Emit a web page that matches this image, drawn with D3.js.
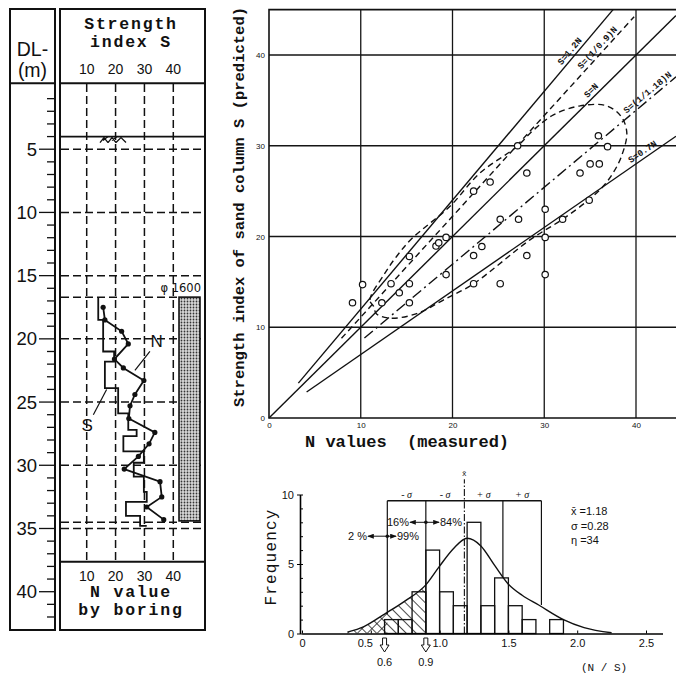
<!DOCTYPE html>
<html>
<head>
<meta charset="utf-8">
<script src="https://cdn.jsdelivr.net/npm/d3@7"></script>
<style>
  body { margin: 0; background: #fff; }
  svg { display: block; }
  text { fill: #111; }
</style>
</head>
<body>
<div class="chart"></div>
<script>
const WIDTH = 676
const HEIGHT = 675

// ---------- data: boring log ----------
const depthLabels = [5, 10, 15, 20, 25, 30, 35, 40]
const logTicks = [10, 20, 30, 40]
const gridDepths = [5, 10, 15, 20, 25, 30, 34.5, 35]
const groundDepth = 4.0
const pileTop = 16.7
const pileBottom = 34.4
const nDepth = [17.5, 18.5, 19.4, 20.4, 21.6, 22.3, 23.3, 24.4, 25.3, 26.3, 27.4, 28.3, 29.3, 30.3, 31.3, 32.5, 33.3, 34.3]
const nValue = [15.7, 16.3, 22.1, 24.4, 19.6, 22.7, 29.8, 26.7, 25.0, 24.6, 33.6, 31.6, 27.9, 23.0, 35.4, 36.0, 30.8, 36.7]
const sTop    = [16.7, 18.5, 21.0, 21.8, 23.9, 25.9, 27.2, 27.7, 28.9, 29.8, 30.9, 32.1, 32.9, 34.0, 34.8]
const sBottom = [18.5, 21.0, 21.8, 23.9, 25.9, 27.2, 27.7, 28.9, 29.8, 30.9, 32.1, 32.9, 34.0, 34.8, 34.8]
const sValue  = [14.0, 15.7, 19.5, 16.3, 20.9, 24.4, 27.3, 22.7, 29.8, 26.3, 29.8, 30.8, 23.6, 28.5, 30.8]

// ---------- data: scatter N vs S ----------
const axisTicks = [0, 10, 20, 30, 40]
const measuredN = [9.1, 10.2, 12.3, 13.3, 14.2, 15.3, 15.3, 15.3, 18.2, 18.5, 19.3, 19.3, 22.3, 23.2, 22.3, 25.2, 25.2,
                   27.2, 28.1, 30.1, 30.1, 30.1, 32.0, 34.9, 27.1, 28.1, 22.3, 24.1, 35.9, 36.9, 33.9, 35.0, 36.0]
const predictedS = [12.7, 14.7, 12.7, 14.8, 13.8, 14.8, 17.8, 12.7, 18.95, 19.3, 19.9, 15.8, 17.9, 18.9, 14.8, 21.9, 14.8,
                    21.9, 17.9, 23.0, 19.9, 15.8, 21.9, 24.0, 30.0, 27.0, 25.0, 26.0, 31.1, 29.9, 27.0, 28.0, 28.0]
const lineNames  = ["S=1.2N", "S=(1/0.9)N", "S=N", "S=(1/1.18)N", "S=0.7N"]
const lineSlopes = [1.2, 1 / 0.9, 1, 1 / 1.18, 0.7]
const lineFromN  = [3.2, 7.9, 0, 10.4, 4.1]
const lineToN    = [37.5, 39.8, 45, 45, 45]
const labelAtN   = [33.3, 36.3, 35.6, 41.7, 41.1]
const envelopeN = [11.4, 11.0, 12.6, 13.9, 15.6, 19.7, 23.0, 27.0, 28.8, 31.0, 33.9, 36.8, 38.4, 39.0, 38.4, 37.5,
                   36.4, 34.8, 32.0, 28.4, 22.3, 19.0, 16.1, 13.2, 11.7]
const envelopeS = [12.3, 13.0, 15.9, 17.8, 19.8, 23.3, 27.0, 29.9, 31.7, 33.4, 34.4, 34.4, 33.2, 31.4, 28.8, 27.0,
                   25.5, 24.0, 21.9, 19.6, 14.8, 13.0, 11.5, 11.0, 11.5]

// ---------- data: histogram of N/S ----------
const binStart = [0.6, 0.7, 0.8, 0.9, 1.0, 1.1, 1.2, 1.3, 1.4, 1.5, 1.6, 1.7, 1.8]
const binCount = [1, 1, 3, 6, 3, 2, 8, 2, 4, 2, 1, 0, 1]
const curveX = [0.33, 0.45, 0.6, 0.75, 0.9, 1.0, 1.1, 1.2, 1.3, 1.4, 1.5, 1.6, 1.72, 1.9, 2.05, 2.25]
const curveY = [0.1, 0.5, 1.4, 2.35, 3.5, 4.85, 6.1, 6.85, 6.3, 4.9, 3.55, 2.75, 2.05, 1.0, 0.42, 0.05]
const ratioTicks = [0, 0.5, 1.0, 1.5, 2.0, 2.5]
const sigmaX = [0.62, 0.90, 1.46, 1.74]
const sigmaFoot = [1.4, 0, 4.0, 2.05]
const sigmaLabels = ["- σ", "- σ", "+ σ", "+ σ"]
const meanRatio = 1.18
const sdRatio = 0.28
const sampleCount = 34
const markedRatios = [0.6, 0.9]

const svg = d3.select("div.chart")
            .append("svg")
            .attr("width", WIDTH)
            .attr("height", HEIGHT)

const defs = svg.append("defs")

// stipple for the pile column
const stip = defs.append("pattern").attr("id", "stipple")
            .attr("patternUnits", "userSpaceOnUse").attr("width", 3).attr("height", 3)
stip.append("rect").attr("width", 3).attr("height", 3).attr("fill", "#d8d8d8")
stip.append("circle").attr("cx", 1.5).attr("cy", 1.5).attr("r", 0.9).attr("fill", "#333")

// hatches for the histogram tail
function hatch(id, angle) {
  const p = defs.append("pattern").attr("id", id)
            .attr("patternUnits", "userSpaceOnUse").attr("width", 7).attr("height", 7)
            .attr("patternTransform", `rotate(${angle})`)
  p.append("line").attr("x1", 0).attr("y1", 0).attr("x2", 0).attr("y2", 7)
            .attr("stroke", "#111").attr("stroke-width", 1.5)
}
hatch("hatchBack", -45)
hatch("hatchFwd", 45)

const monoHead = "bold 16.5px 'Liberation Mono'"

// =============== 1. boring log ===============
const xLog = d3.scaleLinear().domain([10, 40]).range([86.7, 173.3])
const yDep = d3.scaleLinear().domain([0, 40]).range([86, 591.7])
const log = svg.append("g")

// frames
log.append("rect").attr("x", 10).attr("y", 9).attr("width", 45).attr("height", 621)
            .attr("fill", "none").attr("stroke", "#111").attr("stroke-width", 2)
log.append("rect").attr("x", 60).attr("y", 9).attr("width", 145).attr("height", 621)
            .attr("fill", "none").attr("stroke", "#111").attr("stroke-width", 2)
log.append("line").attr("x1", 10).attr("x2", 55).attr("y1", 83.3).attr("y2", 83.3)
            .attr("stroke", "#111").attr("stroke-width", 2)
log.append("line").attr("x1", 60).attr("x2", 205).attr("y1", 83.3).attr("y2", 83.3)
            .attr("stroke", "#111").attr("stroke-width", 2)
log.append("line").attr("x1", 60).attr("x2", 205).attr("y1", 561.7).attr("y2", 561.7)
            .attr("stroke", "#111").attr("stroke-width", 2)

log.append("text").attr("x", 32.5).attr("y", 56).attr("text-anchor", "middle")
            .style("font", "19.5px 'Liberation Sans'").text("DL-")
log.append("text").attr("x", 32.5).attr("y", 77).attr("text-anchor", "middle")
            .style("font", "19.5px 'Liberation Sans'").text("(m)")

const headRows = [["Strength", 29], ["index S", 46.5], ["N value", 597], ["by boring", 614.5]]
log.selectAll(".head").data(headRows).enter().append("text")
            .attr("x", 131).attr("y", d => d[1]).attr("text-anchor", "middle")
            .style("font", monoHead).style("letter-spacing", "1.8px")
            .text(d => d[0])

// top and bottom scale numbers
log.selectAll(".topnum").data(logTicks).enter().append("text")
            .attr("x", d => xLog(d)).attr("y", 74).attr("text-anchor", "middle")
            .style("font", "14px 'Liberation Sans'").text(d => d)
log.selectAll(".botnum").data(logTicks).enter().append("text")
            .attr("x", d => xLog(d)).attr("y", 581).attr("text-anchor", "middle")
            .style("font", "14px 'Liberation Sans'").text(d => d)

// depth ticks
log.selectAll(".dtick").data(d3.range(1, 43)).enter().append("line")
            .attr("x1", d => d % 5 === 0 ? 39 : 47).attr("x2", 55)
            .attr("y1", d => yDep(d)).attr("y2", d => yDep(d))
            .attr("stroke", "#111").attr("stroke-width", 1.3)
log.selectAll(".dlab").data(depthLabels).enter().append("text")
            .attr("x", 37).attr("y", d => yDep(d) + 6.5).attr("text-anchor", "end")
            .style("font", "18.5px 'Liberation Sans'").text(d => d)

// dashed grid inside the log
log.selectAll(".vdash").data(logTicks).enter().append("line")
            .attr("x1", d => xLog(d)).attr("x2", d => xLog(d)).attr("y1", 84).attr("y2", 561)
            .attr("stroke", "#111").attr("stroke-width", 1.5).attr("stroke-dasharray", "8,4")
log.selectAll(".hdash").data(gridDepths).enter().append("line")
            .attr("x1", 61).attr("x2", 204).attr("y1", d => yDep(d)).attr("y2", d => yDep(d))
            .attr("stroke", "#111").attr("stroke-width", 1.5).attr("stroke-dasharray", "8,4")
log.append("line").attr("x1", 61).attr("x2", 178).attr("y1", yDep(pileTop)).attr("y2", yDep(pileTop))
            .attr("stroke", "#111").attr("stroke-width", 1.5).attr("stroke-dasharray", "8,4")

// ground line and symbol
log.append("line").attr("x1", 60).attr("x2", 205).attr("y1", yDep(groundDepth)).attr("y2", yDep(groundDepth))
            .attr("stroke", "#111").attr("stroke-width", 1.8)
const gy = yDep(groundDepth)
log.append("path")
            .attr("d", `M100,${gy + 6} l4,-5 l4,5 m0,0 l4,-5 l4,5 M103,${gy + 4} l5,-4 m4,4 l5,-4 M116,${gy + 6} l5,-5 l5,5`)
            .attr("fill", "none").attr("stroke", "#111").attr("stroke-width", 1.3)

// pile column
log.append("rect").attr("x", 179).attr("width", 21)
            .attr("y", yDep(pileTop)).attr("height", yDep(pileBottom) - yDep(pileTop))
            .attr("fill", "url(#stipple)").attr("stroke", "#111").attr("stroke-width", 1.6)
log.append("text").attr("x", 201).attr("y", 292).attr("text-anchor", "end")
            .style("font", "11.5px 'DejaVu Sans'").style("fill", "#111").text("φ 1600")

// S step profile
const sPts = sValue.flatMap((v, i) => [[v, sTop[i]], [v, sBottom[i]]])
log.append("path").datum(sPts)
            .attr("d", d3.line().x(d => xLog(d[0])).y(d => yDep(d[1])))
            .attr("fill", "none").attr("stroke", "#111").attr("stroke-width", 1.8)

// N profile
const nPts = nValue.map((v, i) => [v, nDepth[i]])
log.append("path").datum(nPts)
            .attr("d", d3.line().x(d => xLog(d[0])).y(d => yDep(d[1])))
            .attr("fill", "none").attr("stroke", "#111").attr("stroke-width", 1.8)
log.selectAll(".ndot").data(nPts).enter().append("circle")
            .attr("cx", d => xLog(d[0])).attr("cy", d => yDep(d[1])).attr("r", 2.6).attr("fill", "#111")

// N and S labels
log.append("line").attr("x1", xLog(31.9)).attr("y1", yDep(21.0)).attr("x2", xLog(26.7)).attr("y2", yDep(22.5))
            .attr("stroke", "#111").attr("stroke-width", 1.2)
log.append("text").attr("x", xLog(34.2)).attr("y", yDep(20.2) + 6).attr("text-anchor", "middle")
            .style("font", "17px 'Liberation Sans'").text("N")
log.append("line").attr("x1", xLog(12.3)).attr("y1", yDep(26.0)).attr("x2", xLog(16.9)).attr("y2", yDep(24.0))
            .attr("stroke", "#111").attr("stroke-width", 1.2)
log.append("text").attr("x", xLog(10.2)).attr("y", yDep(26.8) + 6).attr("text-anchor", "middle")
            .style("font", "17px 'Liberation Sans'").text("S")

// =============== 2. scatter N vs S ===============
const xS = d3.scaleLinear().domain([0, 40]).range([269, 636])
const yS = d3.scaleLinear().domain([0, 40]).range([418, 55])
const topS = 45
const rightN = xS.invert(WIDTH)
const sc = svg.append("g")

sc.selectAll(".gv").data(axisTicks.slice(1)).enter().append("line")
            .attr("x1", d => xS(d)).attr("x2", d => xS(d)).attr("y1", yS(topS)).attr("y2", yS(0))
            .attr("stroke", "#151515").attr("stroke-width", 1.3)
sc.selectAll(".gh").data(axisTicks.slice(1)).enter().append("line")
            .attr("x1", xS(0)).attr("x2", WIDTH).attr("y1", d => yS(d)).attr("y2", d => yS(d))
            .attr("stroke", "#151515").attr("stroke-width", 1.3)
sc.append("path")
            .attr("d", `M${WIDTH},${yS(topS)}H${xS(0)}V${yS(0)}H${WIDTH}`)
            .attr("fill", "none").attr("stroke", "#111").attr("stroke-width", 1.6)

sc.append("g").attr("transform", `translate(${xS(0)},0)`)
            .call(d3.axisLeft(yS).tickValues(axisTicks).tickSize(0).tickPadding(4))
            .call(g => g.select(".domain").remove())
            .call(g => g.selectAll("text").style("font", "8px 'Liberation Sans'"))
sc.append("g").attr("transform", `translate(0,${yS(0)})`)
            .call(d3.axisBottom(xS).tickValues(axisTicks).tickSize(0).tickPadding(4))
            .call(g => g.select(".domain").remove())
            .call(g => g.selectAll("text").style("font", "8px 'Liberation Sans'"))

sc.append("text").attr("transform", `translate(244,207) rotate(-90)`).attr("text-anchor", "middle")
            .style("font", "bold 15.5px 'Liberation Mono'")
            .text("Strength index of sand column S (predicted)")
sc.append("text").attr("x", 305).attr("y", 447)
            .style("font", "bold 17px 'Liberation Mono'").style("white-space", "pre")
            .text("N values  (measured)")

// reference lines S = k N
const dashFor = { "S=(1/0.9)N": "6,4", "S=(1/1.18)N": "11,4,2,4" }
const refLines = lineNames.map((name, i) => ({
  name, k: lineSlopes[i], n0: lineFromN[i],
  n1: Math.min(lineToN[i], rightN, topS / lineSlopes[i]), at: labelAtN[i]
}))
sc.selectAll(".ref").data(refLines).enter().append("line")
            .attr("x1", d => xS(d.n0)).attr("y1", d => yS(d.k * d.n0))
            .attr("x2", d => xS(d.n1)).attr("y2", d => yS(d.k * d.n1))
            .attr("stroke", "#111").attr("stroke-width", 1.4)
            .attr("stroke-dasharray", d => dashFor[d.name] || null)
sc.selectAll(".reflab").data(refLines).enter().append("text")
            .attr("transform", d => {
              const ang = Math.atan2(yS(d.k * 10) - yS(0), xS(10) - xS(0)) * 180 / Math.PI
              return `translate(${xS(d.at)},${yS(d.k * d.at)}) rotate(${ang})`
            })
            .attr("dy", -3.5).attr("text-anchor", "middle")
            .style("font", "bold 9px 'Liberation Mono'")
            .text(d => d.name)

// dashed envelope
const envPts = envelopeN.map((n, i) => [n, envelopeS[i]])
sc.append("path").datum(envPts)
            .attr("d", d3.line().x(d => xS(d[0])).y(d => yS(d[1])).curve(d3.curveCatmullRomClosed))
            .attr("fill", "none").attr("stroke", "#111").attr("stroke-width", 1.4).attr("stroke-dasharray", "6,4")

// data points
sc.selectAll(".pt").data(measuredN.map((n, i) => [n, predictedS[i]])).enter().append("circle")
            .attr("cx", d => xS(d[0])).attr("cy", d => yS(d[1])).attr("r", 3.2)
            .attr("fill", "#fff").attr("stroke", "#111").attr("stroke-width", 1.2)

// =============== 3. histogram of N/S ===============
const xH = d3.scaleLinear().domain([0, 2.5]).range([302, 646])
const yH = d3.scaleLinear().domain([0, 10]).range([633.5, 494.5])
const hi = svg.append("g")
const curvePts = curveX.map((x, i) => [x, curveY[i]])

defs.append("clipPath").attr("id", "clipTail").append("rect")
            .attr("x", xH(0.3)).attr("y", yH(10)).attr("width", xH(0.9) - xH(0.3)).attr("height", yH(0) - yH(10))
defs.append("clipPath").attr("id", "clipFar").append("rect")
            .attr("x", xH(0.3)).attr("y", yH(10)).attr("width", xH(0.62) - xH(0.3)).attr("height", yH(0) - yH(10))

const under = d3.area().x(d => xH(d[0])).y0(yH(0)).y1(d => yH(d[1])).curve(d3.curveMonotoneX)
hi.append("path").datum(curvePts).attr("d", under).attr("fill", "url(#hatchBack)").attr("clip-path", "url(#clipTail)")
hi.append("path").datum(curvePts).attr("d", under).attr("fill", "url(#hatchFwd)").attr("clip-path", "url(#clipFar)")

// bars
hi.selectAll(".bar").data(binStart.map((b, i) => [b, binCount[i]]).filter(d => d[1] > 0)).enter().append("rect")
            .attr("x", d => xH(d[0])).attr("width", d => xH(d[0] + 0.1) - xH(d[0]))
            .attr("y", d => yH(d[1])).attr("height", d => yH(0) - yH(d[1]))
            .attr("fill", "none").attr("stroke", "#111").attr("stroke-width", 1.3)

// fitted curve
hi.append("path").datum(curvePts)
            .attr("d", d3.line().x(d => xH(d[0])).y(d => yH(d[1])).curve(d3.curveMonotoneX))
            .attr("fill", "none").attr("stroke", "#111").attr("stroke-width", 1.4)

// sigma box
const sigTop = 9.55
hi.append("line").attr("x1", xH(sigmaX[0])).attr("x2", xH(sigmaX[3])).attr("y1", yH(sigTop)).attr("y2", yH(sigTop))
            .attr("stroke", "#111").attr("stroke-width", 1.3)
hi.selectAll(".sig").data(sigmaX).enter().append("line")
            .attr("x1", d => xH(d)).attr("x2", d => xH(d))
            .attr("y1", yH(sigTop)).attr("y2", (d, i) => yH(sigmaFoot[i]))
            .attr("stroke", "#111").attr("stroke-width", 1.2)
const sigMid = [(sigmaX[0] + sigmaX[1]) / 2, (sigmaX[1] + meanRatio) / 2, (meanRatio + sigmaX[2]) / 2, (sigmaX[2] + sigmaX[3]) / 2]
hi.selectAll(".siglab").data(sigMid).enter().append("text")
            .attr("x", d => xH(d)).attr("y", yH(sigTop) - 3).attr("text-anchor", "middle")
            .style("font", "italic 10px 'Liberation Serif'").text((d, i) => sigmaLabels[i])

// mean line
hi.append("line").attr("x1", xH(meanRatio)).attr("x2", xH(meanRatio)).attr("y1", yH(0)).attr("y2", yH(11.1))
            .attr("stroke", "#111").attr("stroke-width", 1.1).attr("stroke-dasharray", "7,2,1.5,2")
hi.append("text").attr("x", xH(meanRatio)).attr("y", yH(11.35)).attr("text-anchor", "middle")
            .style("font", "8px 'Liberation Sans'").text("x̄")

// percent arrows
const arrowHead = defs.append("marker").attr("id", "ah").attr("viewBox", "0 0 8 6")
            .attr("refX", 7).attr("refY", 3).attr("markerWidth", 7).attr("markerHeight", 5).attr("orient", "auto")
arrowHead.append("path").attr("d", "M0,0L8,3L0,6Z").attr("fill", "#111")
function pctRow(at, level, leftText, rightText, leftEnd, rightEnd) {
  const y = yH(level), cx = xH(at)
  hi.append("line").attr("x1", cx).attr("x2", leftEnd).attr("y1", y).attr("y2", y)
            .attr("stroke", "#111").attr("stroke-width", 1).attr("marker-end", "url(#ah)")
  hi.append("line").attr("x1", cx).attr("x2", rightEnd).attr("y1", y).attr("y2", y)
            .attr("stroke", "#111").attr("stroke-width", 1).attr("marker-end", "url(#ah)")
  hi.append("circle").attr("cx", cx).attr("cy", y).attr("r", 1.8).attr("fill", "#111")
  hi.append("text").attr("x", leftEnd - 1).attr("y", y + 4).attr("text-anchor", "end")
            .style("font", "11px 'Liberation Sans'").text(leftText)
  hi.append("text").attr("x", rightEnd + 1).attr("y", y + 4)
            .style("font", "11px 'Liberation Sans'").text(rightText)
}
pctRow(0.9, 8.0, "16%", "84%", 410, 439)
pctRow(0.62, 7.0, "2 %", "99%", 368, 396)

// stats
const statLines = [`x̄ =${meanRatio.toFixed(2)}`, `σ =${sdRatio.toFixed(2)}`, `η =${sampleCount}`]
hi.selectAll(".stat").data(statLines).enter().append("text")
            .attr("x", 571).attr("y", (d, i) => 515 + i * 14.5)
            .style("font", "11px 'Liberation Sans'").text(d => d)

// axes
hi.append("g").attr("transform", `translate(0,${yH(0)})`)
            .call(d3.axisBottom(xH.copy().domain([0, 2.62]).range([302, xH(2.62)])).tickValues(ratioTicks)
                  .tickSize(-3).tickSizeOuter(0).tickPadding(6).tickFormat(d => d === 0 ? "0" : d.toFixed(1)))
            .call(g => g.select(".domain").attr("stroke-width", 1.6))
            .call(g => g.selectAll("text").style("font", "11px 'Liberation Sans'")
                  .attr("dx", d => d === 0.5 ? -6 : 0))
hi.append("g").attr("transform", `translate(${xH(0) - 2},0)`)
            .call(d3.axisLeft(yH).tickValues(d3.range(0, 11)).tickSize(-3).tickSizeOuter(0).tickFormat(""))
            .call(g => g.select(".domain").attr("stroke-width", 1.6))
hi.append("g").attr("transform", `translate(${xH(0) - 2},0)`)
            .call(d3.axisLeft(yH).tickValues([0, 5, 10]).tickSize(3).tickPadding(3))
            .call(g => g.select(".domain").remove())
            .call(g => g.selectAll("text").style("font", "11px 'Liberation Sans'"))

hi.append("text").attr("transform", `translate(276,557) rotate(-90)`).attr("text-anchor", "middle")
            .style("font", "16px 'Liberation Mono'").style("letter-spacing", "1.2px").text("Frequency")
hi.append("text").attr("x", 604).attr("y", 671).attr("text-anchor", "middle")
            .style("font", "11px 'Liberation Mono'").text("(N / S)")

// hollow arrows under 0.6 and 0.9
hi.selectAll(".harrow").data(markedRatios).enter().append("path")
            .attr("d", d => { const c = xH(d); return `M${c - 2},638V645H${c - 4.5}L${c},652L${c + 4.5},645H${c + 2}V638Z` })
            .attr("fill", "#fff").attr("stroke", "#111").attr("stroke-width", 1)
hi.selectAll(".hlab").data(markedRatios).enter().append("text")
            .attr("x", d => xH(d)).attr("y", 666).attr("text-anchor", "middle")
            .style("font", "11px 'Liberation Sans'").text(d => d.toFixed(1))
</script>
</body>
</html>
